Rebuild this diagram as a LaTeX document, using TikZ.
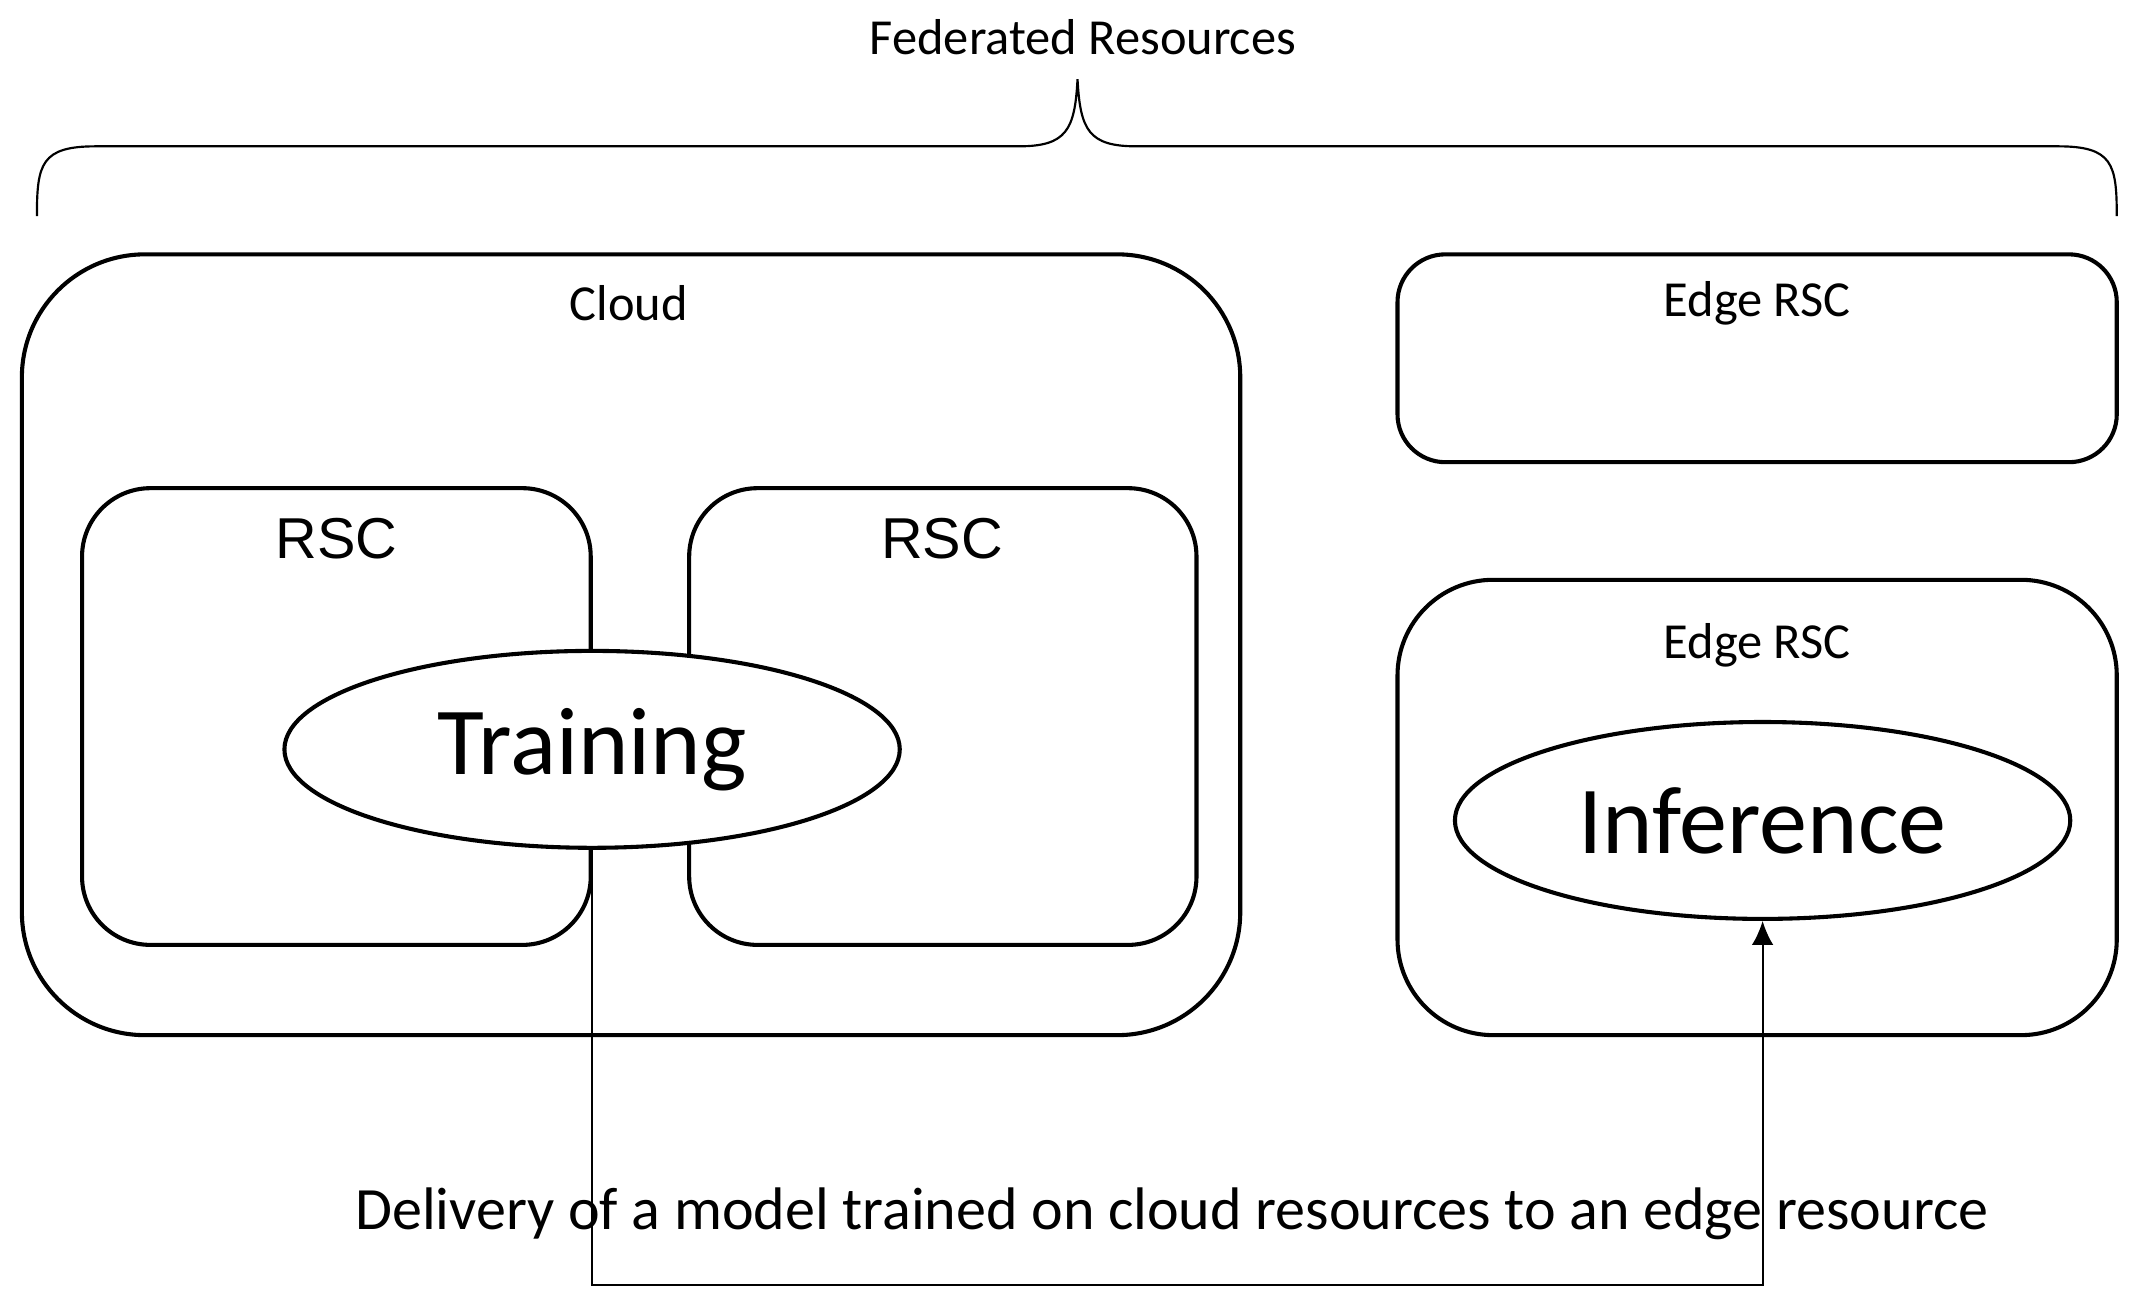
\documentclass[tikz,border=0pt]{standalone}
\usepackage{fontspec}
\setmainfont{Carlito}
\newfontfamily\arialf{Liberation Sans}
\usetikzlibrary{shapes.geometric,arrows.meta}
\begin{document}
\begin{tikzpicture}[x=0.02cm,y=-0.02cm,
  box/.style={draw,line width=1.7pt},
  ell/.style={draw,ellipse,line width=1.7pt,fill=white,minimum width=450*0.02cm,minimum height=144*0.02cm,inner sep=0pt},
  lbl/.style={font=\fontsize{21}{24}\selectfont}]
\useasboundingbox (0,0) rectangle (1565,957);
% brace
\draw[line width=0.9pt] (27,158) .. controls (27,120) and (30,107) .. (70,107) -- (745,107) .. controls (780,107) and (786,95) .. (788,58) .. controls (790,95) and (796,107) .. (831,107) -- (1505,107) .. controls (1545,107) and (1548,120) .. (1548,158);
\node[lbl] (fed) at (792,27) {Federated Resources};
% cloud
\draw[box,rounded corners=90*0.02cm] (16,186) rectangle (907,757);
\node[lbl] (cloud) at (460,222) {Cloud};
\draw[box,rounded corners=50*0.02cm] (60,357) rectangle (432,691);
\draw[box,rounded corners=50*0.02cm] (504,357) rectangle (875,691);
\node[font=\arialf\fontsize{24}{28}\selectfont] (rsc1) at (246,394) {RSC};
\node[font=\arialf\fontsize{24}{28}\selectfont] (rsc2) at (689,394) {RSC};
\node[ell,font=\fontsize{40}{44}\selectfont] (train) at (433,548) {Training};
% edge
\draw[box,rounded corners=35*0.02cm] (1022,186) rectangle (1548,338);
\node[lbl] (e1) at (1285,222) {Edge RSC};
\draw[box,rounded corners=70*0.02cm] (1022,424) rectangle (1548,757);
\node[lbl] (e2) at (1285,472) {Edge RSC};
\node[ell,font=\fontsize{40}{44}\selectfont] (inf) at (1289,600) {Inference};
% connector
\coordinate (c1) at (433,940);
\coordinate (c2) at (1289,940);
\draw[line width=0.8pt,-{Latex[length=10pt,width=9pt]}] (train.south) -- (c1) -- (c2) -- (inf.south);
\node[font=\fontsize{25}{28}\selectfont] (del) at (857,888) {Delivery of a model trained on cloud resources to an edge resource};
\end{tikzpicture}
\end{document}
